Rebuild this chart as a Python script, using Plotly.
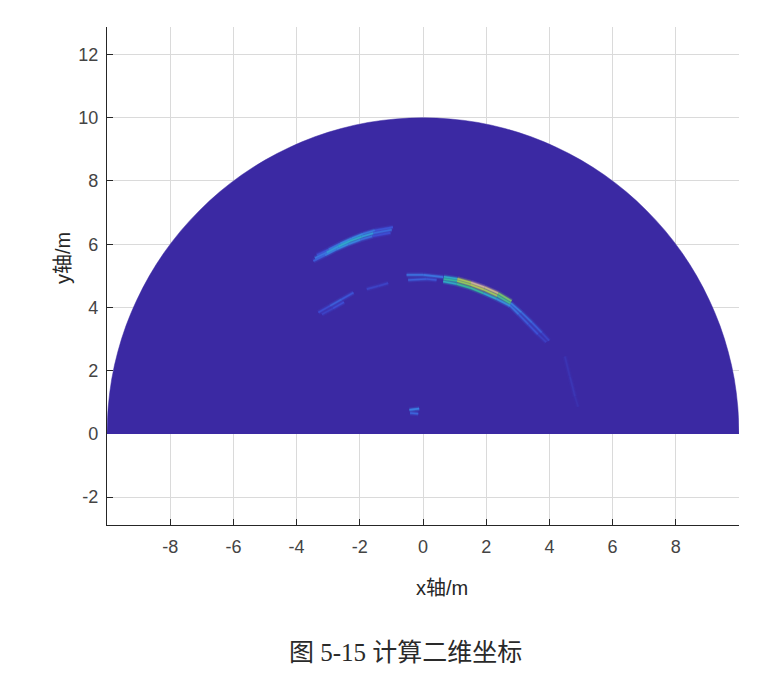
import plotly.graph_objects as go
from plotly.colors import sample_colorscale

X_TICKS = [-8, -6, -4, -2, 0, 2, 4, 6, 8]
X_LABELS = ["-8", "-6", "-4", "-2", "0", "2", "4", "6", "8"]
Y_TICKS = [-2, 0, 2, 4, 6, 8, 10, 12]
Y_LABELS = ["-2", "0", "2", "4", "6", "8", "10", "12"]

# outline of the echo map (metres)
DISC_X = [10.0, 9.96, 9.85, 9.66, 9.40, 9.06, 8.66, 8.19, 7.66, 7.07, 6.43, 5.74, 5.0, 4.23, 3.42, 2.59, 1.74, 0.87, 0,
          -0.87, -1.74, -2.59, -3.42, -4.23, -5.0, -5.74, -6.43, -7.07, -7.66, -8.19, -8.66, -9.06, -9.40, -9.66, -9.85, -9.96, -10.0]
DISC_Y = [0, 0.87, 1.74, 2.59, 3.42, 4.23, 5.0, 5.74, 6.43, 7.07, 7.66, 8.19, 8.66, 9.06, 9.40, 9.66, 9.85, 9.96, 10.0,
          9.96, 9.85, 9.66, 9.40, 9.06, 8.66, 8.19, 7.66, 7.07, 6.43, 5.74, 5.0, 4.23, 3.42, 2.59, 1.74, 0.87, 0]

# streaks: x, y, intensity
UPPER_MID_X = [-3.42, -3.05, -2.68, -2.31, -1.94, -1.57, -0.99]
UPPER_MID_Y = [5.56, 5.74, 5.93, 6.10, 6.24, 6.35, 6.46]
UPPER_MID_V = [0.16, 0.30, 0.40, 0.45, 0.42, 0.30, 0.10]
UPPER_HI_X = [-3.36, -2.98, -2.62, -2.25, -1.90, -1.52, -0.95]
UPPER_HI_Y = [5.66, 5.84, 6.02, 6.19, 6.33, 6.44, 6.54]
UPPER_HI_V = [0.06, 0.16, 0.24, 0.28, 0.26, 0.20, 0.06]
UPPER_LO_X = [-3.47, -3.10, -2.73, -2.36, -1.98, -1.60, -1.03]
UPPER_LO_Y = [5.47, 5.65, 5.84, 6.00, 6.14, 6.25, 6.36]
UPPER_LO_V = [0.10, 0.22, 0.26, 0.28, 0.24, 0.18, 0.05]

MAIN_OUT_X = [0.66, 1.09, 1.52, 1.95, 2.38, 2.80]
MAIN_OUT_Y = [4.97, 4.91, 4.79, 4.64, 4.45, 4.20]
MAIN_OUT_V = [0.30, 0.55, 1.00, 1.00, 0.90, 0.45]
MAIN_MID_X = [0.65, 1.08, 1.50, 1.93, 2.35, 2.77]
MAIN_MID_Y = [4.90, 4.84, 4.72, 4.56, 4.37, 4.13]
MAIN_MID_V = [0.40, 0.66, 0.78, 0.80, 0.70, 0.46]
MAIN_IN_X = [0.64, 1.07, 1.49, 1.91, 2.33, 2.75]
MAIN_IN_Y = [4.82, 4.74, 4.62, 4.45, 4.27, 4.05]
MAIN_IN_V = [0.36, 0.52, 0.58, 0.50, 0.36, 0.26]
TAIL_A_X = [2.78, 3.12, 3.45, 3.76, 3.99]
TAIL_A_Y = [4.14, 3.84, 3.52, 3.20, 2.95]
TAIL_A_V = [0.30, 0.22, 0.18, 0.14, 0.04]
TAIL_B_X = [2.73, 3.03, 3.34, 3.64, 3.90]
TAIL_B_Y = [4.08, 3.78, 3.46, 3.15, 2.90]
TAIL_B_V = [0.26, 0.18, 0.14, 0.12, 0.03]
FAINT_X = [4.49, 4.65, 4.81, 4.91]
FAINT_Y = [2.45, 1.81, 1.18, 0.86]
FAINT_V = [0.03, 0.05, 0.04, 0.02]
CREST_HI_X = [-0.52, 0.01, 0.64]
CREST_HI_Y = [5.03, 5.03, 4.96]
CREST_HI_V = [0.16, 0.28, 0.18]
CREST_LO_X = [-0.47, 0.12, 0.43]
CREST_LO_Y = [4.87, 4.90, 4.87]
CREST_LO_V = [0.14, 0.20, 0.10]
LEFT_A_X = [-3.31, -2.94, -2.57, -2.20]
LEFT_A_Y = [3.84, 4.05, 4.26, 4.47]
LEFT_A_V = [0.06, 0.16, 0.18, 0.10]
LEFT_B_X = [-3.20, -2.85, -2.50]
LEFT_B_Y = [3.78, 3.97, 4.17]
LEFT_B_V = [0.05, 0.12, 0.12]
LEFT_C_X = [-1.78, -1.41, -1.10]
LEFT_C_Y = [4.58, 4.68, 4.77]
LEFT_C_V = [0.05, 0.12, 0.05]
BLOB_HI_X = [-0.43, -0.12]
BLOB_HI_Y = [0.76, 0.80]
BLOB_HI_V = [0.25, 0.28]
BLOB_LO_X = [-0.41, -0.15]
BLOB_LO_Y = [0.66, 0.64]
BLOB_LO_V = [0.20, 0.18]

STREAKS = [
    (UPPER_LO_X, UPPER_LO_Y, UPPER_LO_V), (UPPER_HI_X, UPPER_HI_Y, UPPER_HI_V), (UPPER_MID_X, UPPER_MID_Y, UPPER_MID_V),
    (TAIL_A_X, TAIL_A_Y, TAIL_A_V), (TAIL_B_X, TAIL_B_Y, TAIL_B_V), (FAINT_X, FAINT_Y, FAINT_V),
    (CREST_HI_X, CREST_HI_Y, CREST_HI_V), (CREST_LO_X, CREST_LO_Y, CREST_LO_V),
    (LEFT_A_X, LEFT_A_Y, LEFT_A_V), (LEFT_B_X, LEFT_B_Y, LEFT_B_V), (LEFT_C_X, LEFT_C_Y, LEFT_C_V),
    (BLOB_HI_X, BLOB_HI_Y, BLOB_HI_V), (BLOB_LO_X, BLOB_LO_Y, BLOB_LO_V),
    (MAIN_IN_X, MAIN_IN_Y, MAIN_IN_V), (MAIN_OUT_X, MAIN_OUT_Y, MAIN_OUT_V), (MAIN_MID_X, MAIN_MID_Y, MAIN_MID_V),
]

BASE = "#3B29A3"
SCALE = [[0, BASE], [0.12, "#3F50D8"], [0.28, "#3A8CE8"], [0.42, "#2FB0D0"], [0.55, "#35C29A"],
         [0.7, "#8CD15E"], [0.82, "#C8D050"], [1, "#D8B8A0"]]

fig = go.Figure()
fig.add_trace(go.Scatter(x=DISC_X, y=DISC_Y, mode="lines", fill="toself", fillcolor=BASE,
                         line=dict(color=BASE, width=0.5, shape="spline", smoothing=1),
                         hoverinfo="skip", showlegend=False))
for xs, ys, vs in STREAKS:
    for i in range(len(xs) - 1):
        v = (vs[i] + vs[i + 1]) / 2
        c = sample_colorscale(SCALE, [v])[0]
        for width, alpha in ((5.0, 0.18), (3.0, 0.35), (1.6, 0.85)):
            fig.add_trace(go.Scatter(x=xs[i:i + 2], y=ys[i:i + 2], mode="lines",
                                     line=dict(color=c, width=width), opacity=alpha,
                                     hoverinfo="skip", showlegend=False))

axis = dict(showgrid=True, gridcolor="#DADADA", gridwidth=1, zeroline=False, ticks="inside", ticklen=6,
            tickcolor="#262626", tickwidth=1, showline=True, linecolor="#262626", linewidth=1.2,
            layer="below traces", tickfont=dict(family="Liberation Sans", size=18, color="#444444"))
fig.update_xaxes(range=[-10, 10], tickvals=X_TICKS, ticktext=X_LABELS, ticklabelstandoff=5, **axis)
fig.update_yaxes(range=[-2.88, 12.87], tickvals=Y_TICKS, ticktext=Y_LABELS, ticklabelstandoff=4, **axis)

LABEL_FONT = dict(family="Liberation Sans, Noto Sans CJK SC", size=20, color="#262626")
fig.update_layout(width=774, height=683, autosize=False, plot_bgcolor="white", paper_bgcolor="white",
                  margin=dict(l=99, r=43, t=19, b=166), showlegend=False,
                  annotations=[
                      dict(text="x轴/m", xref="paper", yref="paper", x=(442 - 107) / 632, y=(525 - 588) / 498,
                           xanchor="center", yanchor="middle", showarrow=False, font=LABEL_FONT),
                      dict(text="y轴/m", xref="paper", yref="paper", x=(63 - 107) / 632, y=(525 - 258) / 498,
                           xanchor="center", yanchor="middle", showarrow=False, textangle=-90, font=LABEL_FONT),
                      dict(text="图 5-15 计算二维坐标", xref="paper", yref="paper", x=(405 - 107) / 632, y=(525 - 652) / 498,
                           xanchor="center", yanchor="middle", showarrow=False,
                           font=dict(family="Liberation Serif, Noto Sans CJK SC", size=25, color="#2A2A2A")),
                  ])
fig.write_html("out.html")
